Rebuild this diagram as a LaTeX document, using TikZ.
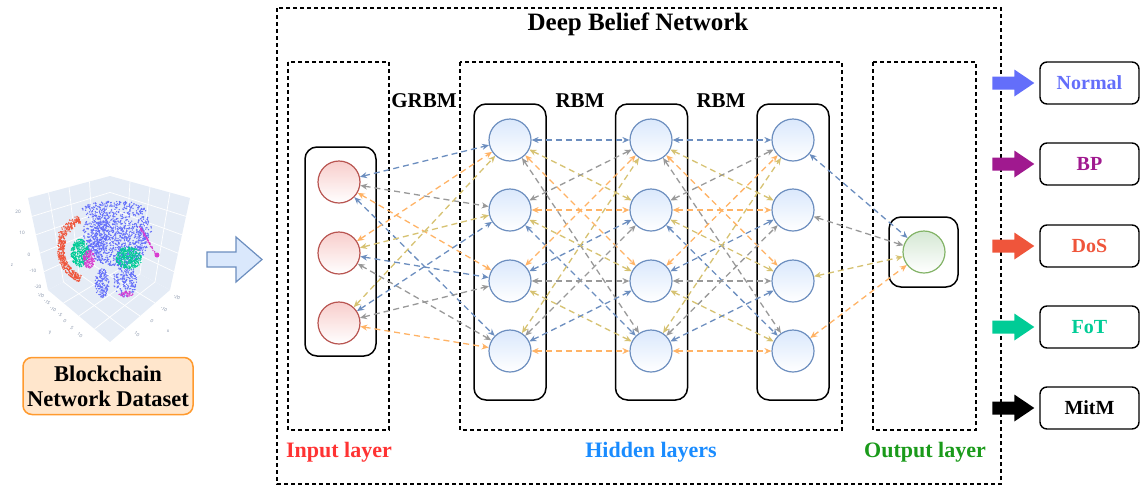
\documentclass[tikz,border=0pt]{standalone}
\usepackage{fontspec}
\setmainfont{Liberation Serif}
\newfontfamily\tickfont{Open Sans}
\usetikzlibrary{arrows.meta,calc}

% palette
\definecolor{hbl}{HTML}{6C8EBF}
\definecolor{hblfill}{HTML}{DAE8FC}
\definecolor{ired}{HTML}{B85450}
\definecolor{ifill}{HTML}{F8CECC}
\definecolor{ogreen}{HTML}{82B366}
\definecolor{ofill}{HTML}{D5E8D4}
\definecolor{lblue}{HTML}{6C8EBF}
\definecolor{lorange}{HTML}{FFB366}
\definecolor{lgray}{HTML}{999999}
\definecolor{lkhaki}{HTML}{D6C272}
\definecolor{txtred}{HTML}{FF3333}
\definecolor{txtblue}{HTML}{1A8CFF}
\definecolor{txtgreen}{HTML}{1A9A1A}
\definecolor{cnormal}{HTML}{636EFA}
\definecolor{cbp}{HTML}{A0198F}
\definecolor{cdos}{HTML}{EF553B}
\definecolor{cfot}{HTML}{00CC96}
\definecolor{cmag}{HTML}{D93BD0}
\definecolor{plotbg}{HTML}{E5ECF6}
\definecolor{tickc}{HTML}{7F8CA3}
\definecolor{dsfill}{HTML}{FFE6CC}
\definecolor{dsdraw}{HTML}{FF9A2E}

% random dots scattered inside an ellipse: colour, count, cx, cy, rx, ry
\newcommand\dotcloud[6]{%
  \foreach \k in {1,...,#2}{%
    \pgfmathsetmacro\ang{rnd*360}%
    \pgfmathsetmacro\rad{sqrt(rnd)}%
    \fill[#1] ({#3+#5*\rad*cos(\ang)},{#4+#6*\rad*sin(\ang)}) circle[radius=0.75];
  }}

\tikzset{
  neuronH/.style={circle, minimum size=42pt, inner sep=0pt, draw=hbl, line width=1.2pt,
                  top color=hblfill, bottom color=white},
  neuronI/.style={circle, minimum size=42pt, inner sep=0pt, draw=ired, line width=1.2pt,
                  top color=ifill, bottom color=white},
  neuronO/.style={circle, minimum size=42pt, inner sep=0pt, draw=ogreen, line width=1.2pt,
                  top color=ofill, bottom color=white},
  column/.style={draw=black, rounded corners=12pt, line width=1.5pt, inner sep=0pt},
  layerbox/.style={draw=black, line width=1.2pt, dash pattern=on 4pt off 3pt},
  link/.style={line width=1.3pt, dash pattern=on 6pt off 4pt,
               {Stealth[length=7pt,width=6pt]}-{Stealth[length=7pt,width=6pt]}},
  ttl/.style={font=\bfseries\fontsize{25}{30}\selectfont},
  rbm/.style={font=\bfseries\fontsize{21}{25}\selectfont},
  lyr/.style={font=\bfseries\fontsize{22}{26}\selectfont},
  classbox/.style={draw=black, rounded corners=7pt, line width=1.4pt, minimum width=99pt,
                   minimum height=42pt, font=\bfseries\fontsize{20}{24}\selectfont},
  tick/.style={font=\tickfont\fontsize{4.6}{5}\selectfont, text=tickc, inner sep=0pt},
}

\begin{document}
\begin{tikzpicture}[x=1pt, y=-1pt]
\useasboundingbox (0,0) rectangle (1144,488);

% ---------- 3D scatter of the dataset ----------
\coordinate (TL) at (28,198);
\coordinate (BK) at (110,176);
\coordinate (TR) at (190,198);
\coordinate (BL) at (48,290);
\coordinate (BB) at (110,258);
\coordinate (BR) at (170,290);
\coordinate (FR) at (110,342);
\fill[plotbg] (TL) -- (BK) -- (BB) -- (BL) -- cycle;
\fill[plotbg] (BK) -- (TR) -- (BR) -- (BB) -- cycle;
\fill[plotbg] (BL) -- (BB) -- (BR) -- (FR) -- cycle;
\begin{scope}[white, line width=0.7pt]
  \foreach \t in {0.2,0.4,0.6,0.8}{
    \draw ($(TL)!\t!(BL)$) -- ($(BK)!\t!(BB)$);
    \draw ($(BK)!\t!(BB)$) -- ($(TR)!\t!(BR)$);
  }
  \foreach \t in {0.25,0.5,0.75}{
    \draw ($(TL)!\t!(BK)$) -- ($(BL)!\t!(BB)$);
    \draw ($(BK)!\t!(TR)$) -- ($(BB)!\t!(BR)$);
    \draw ($(BL)!\t!(BB)$) -- ($(FR)!\t!(BR)$);
    \draw ($(BB)!\t!(BR)$) -- ($(BL)!\t!(FR)$);
  }
\end{scope}

\pgfmathsetseed{42}
% attack / normal clusters
\foreach \k in {1,...,520}{%
  \pgfmathsetmacro\ang{112+rnd*136}%
  \pgfmathsetmacro\rr{31+3.5*rand+(\ang>200?4*rnd:0)}%
  \fill[cdos] ({92+\rr*cos(\ang)},{250+\rr*sin(\ang)}) circle[radius=0.7];
}
\dotcloud{cnormal}{260}{114}{210}{32}{9}
\dotcloud{cnormal}{900}{117}{242}{31}{24}
\dotcloud{cnormal}{220}{95}{234}{12}{20}
\dotcloud{cnormal}{160}{102}{283}{7}{15}
\dotcloud{cnormal}{200}{125}{281}{12}{16}
\dotcloud{cnormal}{90}{144}{228}{8}{12}
\dotcloud{cfot}{320}{80}{253}{9}{14}
\dotcloud{cmag}{130}{89}{259}{6}{9}
\dotcloud{cfot}{330}{129}{258}{13}{11}
\dotcloud{cmag}{35}{126}{294}{7}{3}
\foreach \k in {1,...,60}{%
  \pgfmathsetmacro\u{rnd}%
  \fill[cmag] ({140+17*\u+0.8*rand},{227+29*\u+0.8*rand}) circle[radius=0.7];
}
\fill[cmag] (157,255) circle[radius=2.5];

% axis ticks
\node[tick] at (18,212) {20};
\node[tick] at (22,233) {10};
\node[tick] at (29,255) {0};
\node[tick] at (33,271) {-10};
\node[tick] at (38,287) {-20};
\node[tick] at (12,265) {z};
\foreach \v/\px/\py in {-20/41/295,-15/47/302,-10/53/309,-5/60/315,0/65/321,5/72/328,10/80/335}
  \node[tick, rotate=-40] at (\px,\py) {\v};
\node[tick] at (50,333) {y};
\foreach \v/\px/\py in {-20/177/297,-10/164/309,0/152/321,10/137/334}
  \node[tick, rotate=-40] at (\px,\py) {\v};
\node[tick] at (168,331) {x};

% dataset caption
\node[draw=dsdraw, fill=dsfill, rounded corners=9pt, line width=1.5pt,
      minimum width=170pt, minimum height=57pt, align=center, inner sep=0pt,
      font=\bfseries\fontsize{22.5}{25}\selectfont] (dataset) at (108,386)
      {Blockchain\\Network Dataset};

% feed arrow into the network
\draw[hbl, fill=hblfill, line width=1.2pt, line join=miter]
  (207,252) -- (236,252) -- (236,237) -- (262,259.5) -- (236,282) -- (236,267) -- (207,267) -- cycle;

% ---------- Deep Belief Network frame ----------
\draw[layerbox] (277,8) rectangle (1001,484);
\draw[layerbox] (288,62) rectangle (389,430);
\draw[layerbox] (460,62) rectangle (842,430);
\draw[layerbox] (873,62) rectangle (976,430);

\node[ttl] (dbn) at (638,24) {Deep Belief Network};
\node[rbm] (grbm) at (424,101) {GRBM};
\node[rbm] (rbm1) at (580,101) {RBM};
\node[rbm] (rbm2) at (721,101) {RBM};

\node[lyr, text=txtred] (lin) at (339,452) {Input layer};
\node[lyr, text=txtblue] (lhid) at (651,452) {Hidden layers};
\node[lyr, text=txtgreen] (lout) at (925,452) {Output layer};

% layer containers
\node[column, minimum width=71pt, minimum height=209pt] (colI) at (340.5,251.5) {};
\node[column, minimum width=72pt, minimum height=296pt] (colA) at (510,252) {};
\node[column, minimum width=72pt, minimum height=296pt] (colB) at (651.5,252) {};
\node[column, minimum width=72pt, minimum height=296pt] (colC) at (793,252) {};
\node[column, minimum width=69pt, minimum height=70pt] (colO) at (923.5,252) {};

% neurons
\node[neuronI] (I1) at (339,182) {};
\node[neuronI] (I2) at (339,253) {};
\node[neuronI] (I3) at (339,323) {};
\foreach \n/\y in {1/140,2/210,3/281,4/351}{
  \node[neuronH] (A\n) at (510,\y) {};
  \node[neuronH] (B\n) at (651,\y) {};
  \node[neuronH] (C\n) at (793,\y) {};
}
\node[neuronO] (O) at (924,252) {};

% visible-hidden links (GRBM)
\foreach \s/\t/\c in {I1/A1/lblue, I1/A2/lgray, I1/A3/lorange, I1/A4/lblue,
                      I2/A1/lorange, I2/A2/lkhaki, I2/A3/lblue, I2/A4/lgray,
                      I3/A1/lkhaki, I3/A2/lblue, I3/A3/lgray, I3/A4/lorange}
  \draw[link, draw=\c] (\s) -- (\t);

% hidden-hidden links (RBMs)
\foreach \p/\q in {A/B, B/C}{
  \foreach \i/\j/\c in {1/1/lblue, 1/2/lkhaki, 1/3/lorange, 1/4/lgray,
                        2/1/lgray, 2/2/lorange, 2/3/lkhaki, 2/4/lblue,
                        3/1/lorange, 3/2/lblue, 3/3/lgray, 3/4/lkhaki,
                        4/1/lkhaki, 4/2/lgray, 4/3/lblue, 4/4/lorange}
    \draw[link, draw=\c] (\p\i) -- (\q\j);
}

% hidden-output links
\foreach \s/\c in {C1/lblue, C2/lgray, C3/lkhaki, C4/lorange}
  \draw[link, draw=\c] (\s) -- (O);

% ---------- predicted classes ----------
\node[classbox, text=cnormal] (normal) at (1089.5,83) {Normal};
\node[classbox, text=cbp] (bp) at (1089.5,164) {BP};
\node[classbox, text=cdos] (dos) at (1089.5,246) {DoS};
\node[classbox, text=cfot] (fot) at (1089.5,327) {FoT};
\node[classbox, text=black] (mitm) at (1089.5,408) {MitM};

\foreach \b/\c in {normal/cnormal, bp/cbp, dos/cdos, fot/cfot, mitm/black}
  \fill[\c] ($(\b.west)+(-47,-6.5)$) -- ($(\b.west)+(-25,-6.5)$) -- ($(\b.west)+(-25,-13.5)$)
         -- ($(\b.west)+(-5,0)$) -- ($(\b.west)+(-25,13.5)$) -- ($(\b.west)+(-25,6.5)$)
         -- ($(\b.west)+(-47,6.5)$) -- cycle;
\end{tikzpicture}
\end{document}
